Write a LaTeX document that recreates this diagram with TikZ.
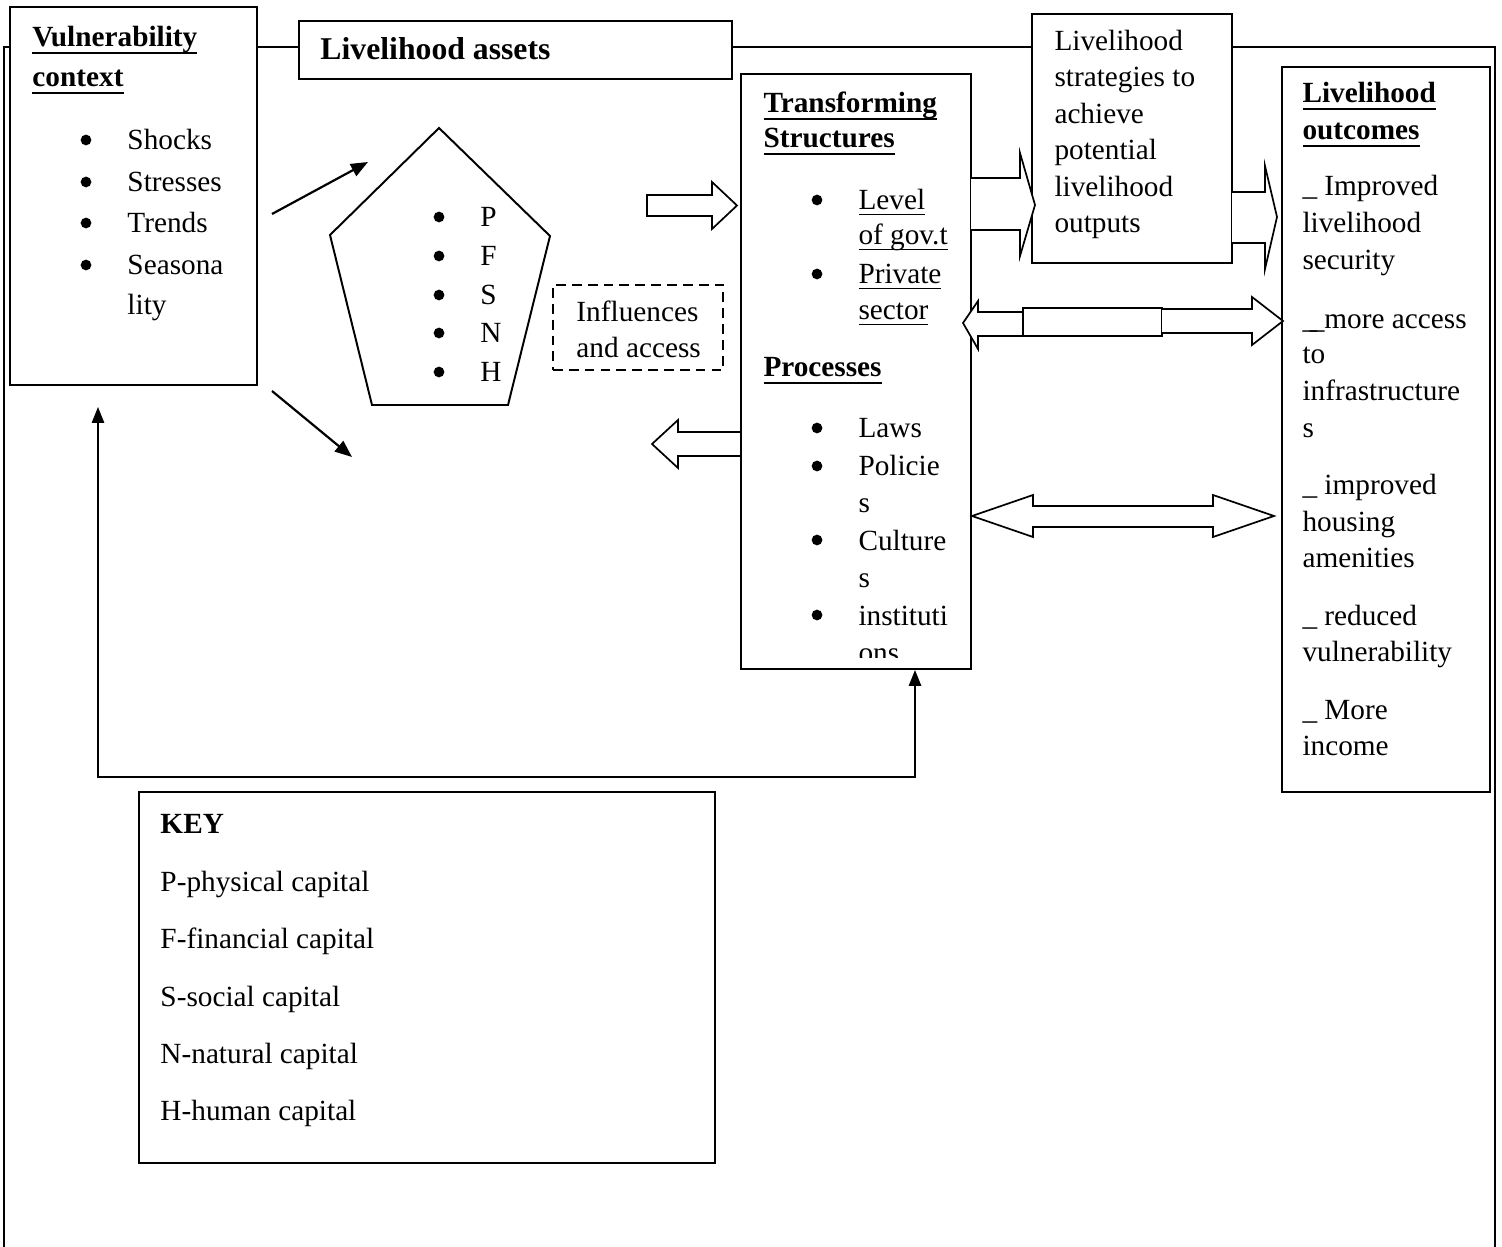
\documentclass[tikz,border=0pt]{standalone}
\usepackage{fontspec}
\setmainfont{Liberation Serif}
\usetikzlibrary{arrows.meta,fit}
\newcommand\ulb[1]{\setbox0\hbox{#1}\rlap{\rule[-3pt]{\wd0}{1.1pt}}\box0}
\newcommand\ulr[1]{\setbox0\hbox{#1}\rlap{\rule[-2.2pt]{\wd0}{0.6pt}}\box0}
\begin{document}
\begin{tikzpicture}[x=0.41pt,y=-0.41pt,
  box/.style={draw,line width=0.8pt,fill=white,inner sep=0pt},
  dbox/.style={draw,line width=0.8pt,dash pattern=on 4pt off 2.5pt,inner sep=0pt},
  frame/.style={draw,line width=0.8pt},
  txt/.style={anchor=base west,inner sep=0pt,font=\fontsize{12}{14}\selectfont},
  hd/.style={anchor=base west,inner sep=0pt,font=\fontsize{12}{14}\selectfont\bfseries},
  blk/.style={draw,line width=0.7pt,fill=white,line join=miter},
  arr/.style={line width=0.9pt,-{Triangle[length=7pt,width=5.5pt]}},
  darr/.style={line width=0.8pt,{Triangle[length=6.5pt,width=5pt]}-{Triangle[length=6.5pt,width=5pt]}},
  bul/.style={radius=2.2pt}]
\useasboundingbox (0,0) rectangle (1502,1247);
\fill[white] (0,0) rectangle (1502,1247);
% outer frame
\coordinate (fBL) at (4,1247);
\coordinate (fTL) at (4,47);
\coordinate (fTR) at (1495,47);
\coordinate (fBR) at (1495,1247);
\draw[frame] (fBL) -- (fTL) -- (fTR) -- (fBR);

% boxes
\node[box,fit={(10,7) (257,385)}] (vc) {};
\node[box,fit={(299,21) (732,79)}] (la) {};
\node[box,fit={(1032,14) (1232,263)}] (ls) {};
\node[box,fit={(1282,67) (1490,792)}] (lo) {};
\node[box,fit={(139,792) (715,1163)}] (key) {};
\node[dbox,fit={(553,285) (723,370)}] (ia) {};

% block arrow behind transforming box
\draw[blk] (741,432) -- (678,432) -- (678,420) -- (652,444) -- (678,468) -- (678,456) -- (741,456);
\node[box,fit={(741,74) (971,669)}] (ts) {};

% pentagon of assets
\coordinate (pT) at (439,128);
\coordinate (pR) at (550,236);
\coordinate (pBR) at (508,405);
\coordinate (pBL) at (372,405);
\coordinate (pL) at (330,235);
\draw[line width=0.8pt,fill=white,line join=miter] (pT) -- (pR) -- (pBR) -- (pBL) -- (pL) -- cycle;

% hollow block arrows
\draw[blk] (647,195) -- (712,195) -- (712,182) -- (737,205.5) -- (712,229) -- (712,216) -- (647,216) -- cycle;
\draw[blk] (971,178) -- (1020,178) -- (1020,153) -- (1035,205) -- (1020,256) -- (1020,230) -- (971,230);
\draw[blk] (1232,192) -- (1265,192) -- (1265,166) -- (1277,217) -- (1265,269) -- (1265,243) -- (1232,243);
\draw[blk] (1023,312) -- (978,312) -- (978,301) -- (963,323) -- (978,349) -- (978,336) -- (1023,336);
\draw[blk] (1023,308) rectangle (1162,336);
\draw[blk] (1162,309) -- (1252,309) -- (1252,297) -- (1283,321) -- (1252,345) -- (1252,333) -- (1162,333);
\draw[blk] (972,516) -- (1033,495) -- (1033,506) -- (1213,506) -- (1213,495) -- (1274,516) -- (1213,537) -- (1213,527) -- (1033,527) -- (1033,537) -- cycle;

% line arrows
\coordinate (a1s) at (272,214);
\coordinate (a1e) at (368,162);
\draw[arr] (a1s) -- (a1e);
\coordinate (a2s) at (272,391);
\coordinate (a2e) at (352,457);
\draw[arr] (a2s) -- (a2e);

% feedback loop
\coordinate (fb1) at (98,407);
\coordinate (fb2) at (98,777);
\coordinate (fb3) at (915,777);
\draw[darr] (fb1) -- (fb2) -- (fb3) -- (fb3 |- ts.south);

% Vulnerability context
\node[hd] (vc1) at (32,47) {\ulb{Vulnerability}};
\node[hd] (vc2) at (32,87) {\ulb{context}};
\foreach \t/\y [count=\i] in {Shocks/150,Stresses/192,Trends/233,Seasona/275}
  {\fill (86,\y-10) circle[bul]; \node[txt] (vcb\i) at (127,\y) {\t};}
\node[txt] (vcb5) at (127,315) {lity};

% Livelihood assets
\node[anchor=base west,inner sep=0pt,font=\fontsize{13}{15}\selectfont\bfseries] (lat) at (320,60) {Livelihood assets};

% pentagon list
\foreach \t/\y [count=\i] in {P/227,F/266,S/305,N/343,H/382}
  {\fill (439,\y-10) circle[bul]; \node[txt] (pl\i) at (480,\y) {\t};}

% influences
\node[txt] (ia1) at (576,322) {Influences};
\node[txt] (ia2) at (576,358) {and access};

% transforming structures
\node[hd] (ts1) at (763,113) {\ulb{Transforming}};
\node[hd] (ts2) at (763,148) {\ulb{Structures}};
\node[txt] (ts3) at (858,210) {\ulr{Level}};
\node[txt] (ts4) at (858,245) {\ulr{of gov.t}};
\node[txt] (ts5) at (858,284) {\ulr{Private}};
\node[txt] (ts6) at (858,320) {\ulr{sector}};
\fill (817,200) circle[bul];
\fill (817,274) circle[bul];
\node[hd] (ts7) at (763,377) {\ulb{Processes}};
\foreach \t/\y [count=\i] in {Laws/438,Policie/476,s/512,Culture/550,s/587,instituti/625}
  {\node[txt] (tp\i) at (858,\y) {\t};}
\foreach \y in {428,466,540,615} {\fill (817,\y) circle[bul];}
\begin{scope}
  \clip (741,600) rectangle (971,657);
  \node[txt] (tp7) at (858,662) {ons};
\end{scope}

% strategies
\foreach \t/\y [count=\i] in {Livelihood/51,strategies to/87,achieve/124,potential/160,livelihood/197,outputs/233}
  {\node[txt] (ls\i) at (1054,\y) {\t};}

% outcomes
\node[hd] (lo1) at (1302,103) {\ulb{Livelihood}};
\node[hd] (lo2) at (1302,140) {\ulb{outcomes}};
\foreach \t/\y [count=\i] in {\_ Improved/196,livelihood/233,security/270,\_\kern-0.25em\_more access/329,to/364,infrastructure/401,s/437,\_ improved/495,housing/531,amenities/567,\_ reduced/625,vulnerability/661,\_ More/719,income/755}
  {\node[txt] (lot\i) at (1302,\y) {\t};}

% key
\node[hd] (k0) at (160,833) {KEY};
\foreach \t/\y [count=\i] in {P-physical capital/891,F-financial capital/948,S-social capital/1006,N-natural capital/1063,H-human capital/1120}
  {\node[txt] (k\i) at (160,\y) {\t};}
\end{tikzpicture}
\end{document}
